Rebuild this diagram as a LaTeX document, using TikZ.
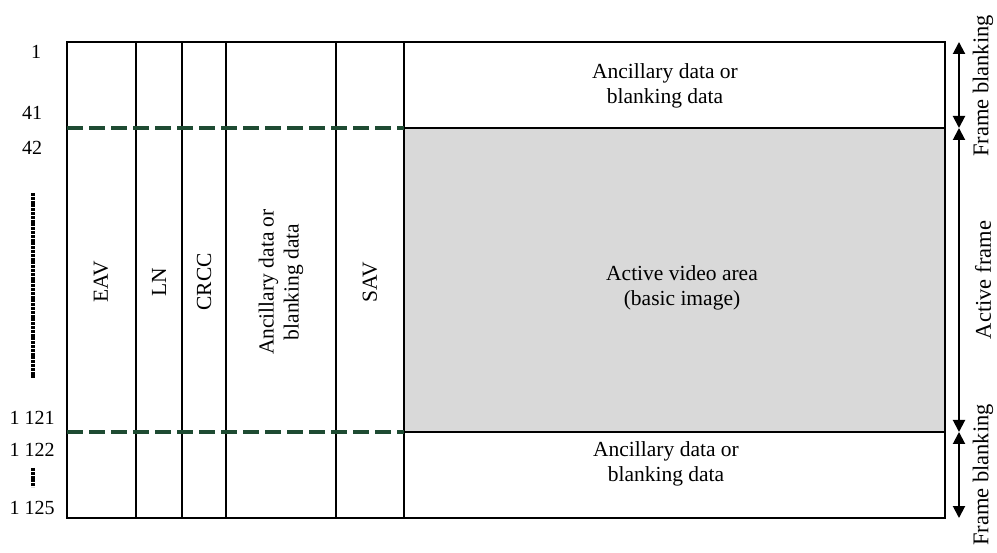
\documentclass[tikz,border=0pt]{standalone}
\usepackage{fontspec}
\setmainfont{Liberation Serif}
\usepackage{xcolor}
\usetikzlibrary{arrows.meta}
\definecolor{sepgreen}{RGB}{30,75,50}

\begin{document}
\begin{tikzpicture}[
  x=1pt, y=-1pt,
  lbl/.style={font=\fontsize{21.5}{25}\selectfont, align=center, inner sep=0pt},
  vlbl/.style={lbl, rotate=90},
  num/.style={lbl, font=\fontsize{20}{24}\selectfont},
  side/.style={vlbl, font=\fontsize{22.5}{26}\selectfont},
  edge/.style={line width=2pt},
  sep/.style={line width=3.5pt, draw=sepgreen, dash pattern=on 16pt off 6pt},
  dotline/.style={line width=4pt, dash pattern=on 3pt off 0.8pt},
  span/.style={{Triangle[length=12pt,width=12pt]}-{Triangle[length=12pt,width=12pt]}, line width=2pt},
]
\useasboundingbox (0,0) rectangle (997,553);

% frame and columns
\fill[gray!30] (404,128) rectangle (945,432);
\draw[edge] (67,42) rectangle (945,518);
\foreach \x in {136,182,226,336,404}
  \draw[edge] (\x,42) -- (\x,518);
\draw[edge] (404,128) -- (945,128);
\draw[edge] (404,432) -- (945,432);
\draw[sep] (67,128) -- (404,128);
\draw[sep] (67,432) -- (404,432);

% column labels
\node[vlbl] (eav) at (101,282) {EAV};
\node[vlbl] (ln) at (159,282) {LN};
\node[vlbl] (crcc) at (204,282) {CRCC};
\node[vlbl] (anc) at (281,282) {Ancillary data or\\blanking data};
\node[vlbl] (sav) at (370,282) {SAV};

\node[lbl] (anctop) at (665,86) {Ancillary data or\\blanking data};
\node[lbl] (active) at (682,288) {Active video area\\(basic image)};
\node[lbl] (ancbot) at (666,464) {Ancillary data or\\blanking data};

% line numbers
\node[num] (l1) at (36,52) {1};
\node[num] (l41) at (32,113) {41};
\node[num] (l42) at (32,148) {42};
\node[num] (l1121) at (32,418) {1 121};
\node[num] (l1122) at (32,450) {1 122};
\node[num] (l1125) at (32,508) {1 125};
\coordinate (d1) at (33,193);
\coordinate (d2) at (33,379);
\coordinate (d3) at (33,468);
\coordinate (d4) at (33,487);
\draw[dotline] (d1) -- (d2);
\draw[dotline] (d3) -- (d4);

% frame spans
\coordinate (t0) at (959,42);
\coordinate (t1) at (959,128);
\coordinate (t2) at (959,432);
\coordinate (t3) at (959,518);
\draw[span] (t0) -- (t1);
\draw[span] (t1) -- (t2);
\draw[span] (t2) -- (t3);
\node[side] (fbtop) at (983,86) {Frame blanking};
\node[side] (actf) at (983,280) {Active frame};
\node[side] (fbbot) at (983,475) {Frame blanking};
\end{tikzpicture}
\end{document}
